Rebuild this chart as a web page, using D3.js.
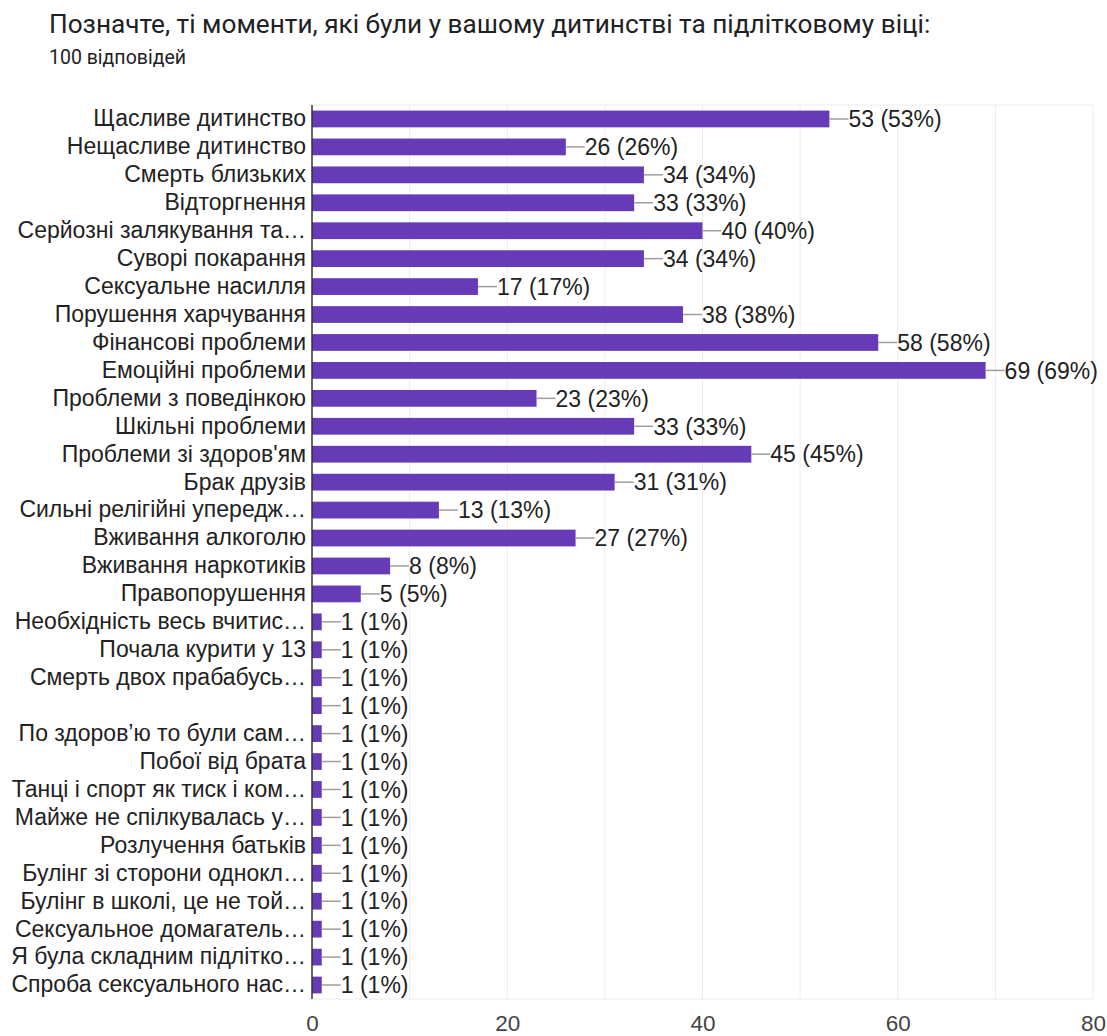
<!DOCTYPE html>
<html>
<head>
  <meta charset="utf-8">
  <style>
  body {
    margin: 0;
    background: #ffffff;
  }
  .title {
    font-family: Roboto, sans-serif;
    font-size: 26.2px;
    fill: #202124;
  }
  .subtitle {
    font-family: Roboto, sans-serif;
    font-size: 19.5px;
    fill: #202124;
  }
  .cat text {
    font-family: "Liberation Sans", Arial, sans-serif;
    font-size: 23px;
    fill: #222222;
  }
  .val {
    font-family: "Liberation Sans", Arial, sans-serif;
    font-size: 23px;
    fill: #222222;
  }
  .xaxis text {
    font-family: "Liberation Sans", Arial, sans-serif;
    font-size: 22.5px;
    fill: #444444;
  }
  </style>
</head>
<body>
<svg id="chart" width="1107" height="1036"></svg>
<script src="https://d3js.org/d3.v7.min.js"></script>
<script>
// answers, in the order shown
var labels = [
  "Щасливе дитинство",
  "Нещасливе дитинство",
  "Смерть близьких",
  "Відторгнення",
  "Серйозні залякування та…",
  "Суворі покарання",
  "Сексуальне насилля",
  "Порушення харчування",
  "Фінансові проблеми",
  "Емоційні проблеми",
  "Проблеми з поведінкою",
  "Шкільні проблеми",
  "Проблеми зі здоров'ям",
  "Брак друзів",
  "Сильні релігійні упередж…",
  "Вживання алкоголю",
  "Вживання наркотиків",
  "Правопорушення",
  "Необхідність весь вчитис…",
  "Почала курити у 13",
  "Смерть двох прабабусь…",
  "",
  "По здоров’ю то були сам…",
  "Побої від брата",
  "Танці і спорт як тиск і ком…",
  "Майже не спілкувалась у…",
  "Розлучення батьків",
  "Булінг зі сторони однокл…",
  "Булінг в школі, це не той…",
  "Сексуальное домагатель…",
  "Я була складним підлітко…",
  "Спроба сексуального нас…"
];
var counts = [53, 26, 34, 33, 40, 34, 17, 38, 58, 69, 23, 33, 45, 31, 13, 27, 8, 5,
  1, 1, 1, 1, 1, 1, 1, 1, 1, 1, 1, 1, 1, 1];
var total = 100;
var xTicks = [0, 20, 40, 60, 80];
var gridTicks = [10, 20, 30, 40, 50, 60, 70, 80];

var svg = d3.select("#chart");

svg.append("text").attr("class", "title")
    .attr("x", 49).attr("y", 33)
    .text("Позначте, ті моменти, які були у вашому дитинстві та підлітковому віці:");
svg.append("text").attr("class", "subtitle")
    .attr("x", 49).attr("y", 64)
    .text("100 відповідей");

var plotL = 312, plotR = 1093, plotT = 105, plotB = 999;
var ids = d3.range(labels.length);

var x = d3.scaleLinear().domain([0, 80]).range([plotL, plotR]);
var y = d3.scaleBand().domain(ids).range([plotT, plotB]).paddingInner(0.4).paddingOuter(0.2);

// grid
svg.append("g").selectAll("line")
    .data(gridTicks)
  .enter().append("line")
    .attr("x1", d => x(d)).attr("x2", d => x(d))
    .attr("y1", plotT).attr("y2", plotB)
    .attr("stroke", "#ececec").attr("stroke-width", 1);
svg.append("line")
    .attr("x1", plotL).attr("x2", plotR)
    .attr("y1", plotT).attr("y2", plotT)
    .attr("stroke", "#ececec");
svg.append("line")
    .attr("x1", plotL).attr("x2", plotR)
    .attr("y1", plotB).attr("y2", plotB)
    .attr("stroke", "#ececec");

// bars
svg.append("g").selectAll("rect")
    .data(ids)
  .enter().append("rect")
    .attr("x", x(0))
    .attr("y", i => y(i))
    .attr("width", i => x(counts[i]) - x(0))
    .attr("height", y.bandwidth())
    .attr("fill", "#673ab7");

// leader lines + values
var lead = svg.append("g");
lead.selectAll("line")
    .data(ids)
  .enter().append("line")
    .attr("x1", i => x(counts[i]))
    .attr("x2", i => x(counts[i]) + 19)
    .attr("y1", i => y(i) + y.bandwidth() / 2)
    .attr("y2", i => y(i) + y.bandwidth() / 2)
    .attr("stroke", "#9e9e9e").attr("stroke-width", 1.5);
lead.selectAll("text")
    .data(ids)
  .enter().append("text")
    .attr("class", "val")
    .attr("x", i => x(counts[i]) + 19)
    .attr("y", i => y(i) + y.bandwidth() / 2)
    .attr("dy", "0.36em")
    .text(i => counts[i] + " (" + Math.round(counts[i] / total * 100) + "%)");

// category axis
var yAxis = d3.axisLeft(y).tickSize(0).tickPadding(6).tickFormat(i => labels[i]);
svg.append("g").attr("class", "cat")
    .attr("transform", "translate(" + plotL + ",0)")
    .call(yAxis)
    .call(g => g.select(".domain").remove());
svg.append("line")
    .attr("x1", plotL).attr("x2", plotL)
    .attr("y1", plotT).attr("y2", plotB)
    .attr("stroke", "#333333").attr("stroke-width", 1.5);

// value axis
var xAxis = d3.axisBottom(x).tickValues(xTicks).tickSize(0).tickPadding(16);
svg.append("g").attr("class", "xaxis")
    .attr("transform", "translate(0," + plotB + ")")
    .call(xAxis)
    .call(g => g.select(".domain").remove());
</script>
</body>
</html>
